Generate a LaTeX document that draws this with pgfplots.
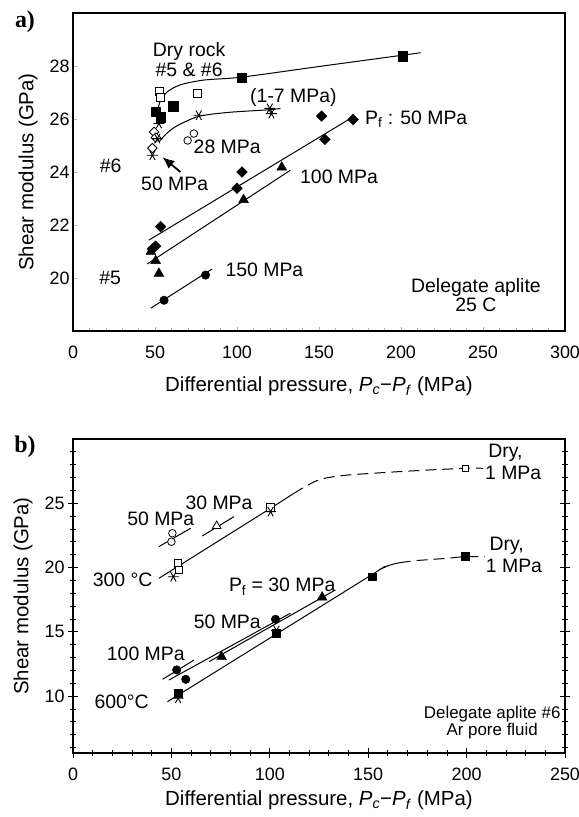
\documentclass[border=0pt]{standalone}
\usepackage{pgfplots}
\pgfplotsset{compat=1.18}
\usepackage{fontspec}
\setmainfont{Liberation Sans}
\newfontfamily\seriffont{Liberation Serif}
\usetikzlibrary{arrows.meta}
\pgfplotsset{
  ln/.style={no marks, black, line width=1pt},
  dl/.style={no marks, black, line width=1pt, dash pattern=on 11bp off 6bp},
  fsq/.style={only marks, mark=square*, mark size=4.6pt, mark options={black, fill=black}},
  osq/.style={only marks, mark=square*, mark size=4pt, mark options={black, fill=white, line width=0.8pt}},
  ast/.style={only marks, mark=asterisk, mark size=5.5pt, mark options={black, rotate=90, line width=0.9pt}},
  ocir/.style={only marks, mark=*, mark size=3.8pt, mark options={black, fill=white, line width=0.8pt}},
  fcir/.style={only marks, mark=*, mark size=4.3pt, mark options={black, fill=black}},
  odia/.style={only marks, mark=square*, mark size=3.4pt, mark options={black, fill=white, rotate=45, line width=0.8pt}},
  fdia/.style={only marks, mark=square*, mark size=3.8pt, mark options={black, fill=black, rotate=45}},
  ftri/.style={only marks, mark=triangle*, mark size=5.7pt, mark options={black, fill=black}},
  otri/.style={only marks, mark=triangle*, mark size=5pt, mark options={black, fill=white, line width=0.8pt}},
}
\tikzset{ann/.style={font=\fontsize{19.5}{20.5}\selectfont, inner sep=0pt}}
\begin{document}
\begin{tikzpicture}[x=1bp,y=1bp]
\useasboundingbox (0,0) rectangle (579,817);
% ---------------- panel a ----------------
\begin{axis}[
  at={(73bp,486bp)}, anchor=south west,
  scale only axis, width=492bp, height=318bp,
  xmin=0, xmax=300, ymin=18, ymax=30,
  xtick={0,50,...,300}, ytick={20,22,...,28},
  minor xtick={10,20,...,290},
  axis line style={line width=1.3pt},
  tick style={gray!60, line width=0.4pt},
  major tick length=4bp, minor tick length=3bp,
  tick align=inside, xtick pos=bottom, ytick pos=left,
  ticklabel style={font=\fontsize{18}{20}\selectfont},
  xticklabel style={yshift=-11bp},
  /pgf/number format/assume math mode=true,
  xlabel={Differential pressure, \textit{P}\textsubscript{\textit{c}}−\textit{P}\textsubscript{\textit{f}} (MPa)},
  ylabel={Shear modulus (GPa)},
  label style={font=\fontsize{20.5}{22}\selectfont},
  xlabel style={yshift=-12bp},
  ylabel style={yshift=5bp},
  clip=false,
]
% lines
\addplot[ln, smooth, tension=0.45] coordinates {(51.5,26.3) (53.5,26.72) (58,27.05) (66,27.3) (80,27.47) (103,27.58) (150,27.98) (212,28.5)};
\addplot[ln, smooth, tension=0.45] coordinates {(52.4,25.13) (57,25.45) (63.6,25.75) (76.7,26.1) (95,26.25) (120,26.35) (126.5,26.4)};
\addplot[ln] coordinates {(46.3,21.43) (170.8,26.08)};
\addplot[ln] coordinates {(45.3,20.53) (132.4,24.06)};
\addplot[ln] coordinates {(47.4,18.86) (84.8,20.34)};
% markers
\addplot[fsq] coordinates {(50.4,26.26) (53.4,26.07) (61.1,26.48) (103,27.57) (200.8,28.37)};
\addplot[osq] coordinates {(52.4,27.05) (53.5,26.8) (75.7,26.98)};
\addplot[odia] coordinates {(49.4,25.51) (50.5,25.3) (48.4,24.9)};
\addplot[ast] coordinates {(48.4,24.63) (51.4,25.26) (52.4,25.83) (76.7,26.14) (120,26.4) (121,26.2)};
\addplot[ocir] coordinates {(73.7,25.45) (69.9,25.19)};
\addplot[fdia] coordinates {(48.4,21.1) (50.4,21.2) (53.4,21.94) (100,23.39) (103,24.0) (151.6,26.11) (153.6,25.23) (170.8,25.98)};
\addplot[ftri] coordinates {(47.5,21.0) (50.4,20.65) (52.4,20.17) (104,22.95) (127.3,24.18)};
\addplot[fcir] coordinates {(55.5,19.16) (80.8,20.11)};
% arrow
\draw[line width=1.8pt, -{Latex[length=12bp,width=10bp]}] (axis cs:65.5,24.0) -- (axis cs:54.5,24.56);
% labels
\node[ann, align=center] at (axis cs:70.8,28.24) {Dry rock\\\#5 \& \#6};
\node[ann] at (axis cs:134.4,26.83) {(1-7 MPa)};
\node[ann, anchor=west] at (axis cs:73.5,24.94) {28 MPa};
\node[ann] at (axis cs:23,24.25) {\#6};
\node[ann] at (axis cs:62,23.55) {50 MPa};
\node[ann, anchor=west] at (axis cs:178,26.0) {P\textsubscript{f} : 50 MPa};
\node[ann, anchor=west] at (axis cs:138.4,23.8) {100 MPa};
\node[ann, anchor=west] at (axis cs:92.9,20.3) {150 MPa};
\node[ann] at (axis cs:22.7,20.02) {\#5};
\node[ann, align=center, font=\fontsize{19.5}{16.5}\selectfont] at (axis cs:245.7,19.35) {Delegate aplite\\25 C};
\end{axis}
% ---------------- panel b ----------------
\begin{axis}[
  at={(73bp,64bp)}, anchor=south west,
  scale only axis, width=492bp, height=314bp,
  xmin=0, xmax=250, ymin=5.58, ymax=30,
  xtick={0,50,...,250}, ytick={10,15,20,25},
  minor xtick={10,20,...,240}, minor ytick={6,...,29},
  axis line style={line width=1.2pt},
  tick style={black, line width=0.8pt},
  major tick length=10bp, minor tick length=6bp,
  tick align=center, xtick pos=bottom, ytick pos=both,
  ticklabel style={font=\fontsize{18}{20}\selectfont},
  xticklabel style={yshift=-6bp},
  /pgf/number format/assume math mode=true,
  xlabel={Differential pressure, \textit{P}\textsubscript{\textit{c}}−\textit{P}\textsubscript{\textit{f}} (MPa)},
  ylabel={Shear modulus (GPa)},
  label style={font=\fontsize{20.5}{22}\selectfont},
  xlabel style={yshift=-4bp},
  ylabel style={yshift=5bp},
  clip=false,
]
% upper group (300 C)
\addplot[ln] coordinates {(43.7,19.17) (100.4,24.61) (112,25.75)};
\addplot[dl, smooth, tension=0.5] coordinates {(112,25.75) (118,26.3) (123,26.7) (128,26.95) (140,27.2) (170,27.5) (199.2,27.72) (208.3,27.72)};
\addplot[ln] coordinates {(43.7,21.63) (59.8,23.06)};
\addplot[ln] coordinates {(65.7,22.46) (81.8,23.96)};
\addplot[osq, mark size=3.8pt] coordinates {(53.4,20.33) (53.9,19.81) (100.4,24.69)};
\addplot[osq, mark size=3pt] coordinates {(199.2,27.72)};
\addplot[ast] coordinates {(51,19.29) (100.4,24.35)};
\addplot[ocir] coordinates {(50.5,22.67) (50,22.01)};
\addplot[otri] coordinates {(73,23.23)};
% lower group (600 C)
\addplot[ln] coordinates {(45.5,11.31) (61.5,12.81)};
\addplot[ln] coordinates {(48.8,11.26) (110.5,16.45)};
\addplot[ln] coordinates {(69.1,12.68) (133.3,18.26)};
\addplot[ln, smooth, tension=0.5] coordinates {(48,9.57) (150.2,19.29) (156,19.85) (161.2,20.2) (166,20.38)};
\addplot[dl, smooth, tension=0.5] coordinates {(166,20.38) (175,20.55) (190,20.72) (199.2,20.85) (209.3,20.85)};
\addplot[ast] coordinates {(53.4,9.84) (103.4,15.1)};
\addplot[fsq, mark size=4pt] coordinates {(53.4,10.22) (103.4,14.89) (151.9,19.29) (199.2,20.85)};
\addplot[ftri] coordinates {(75.5,13.07) (126.6,17.69)};
\addplot[fcir] coordinates {(52.7,12.04) (57.3,11.31) (102.9,15.98)};
% labels
\node[ann] at (axis cs:44.6,23.83) {50 MPa};
\node[ann] at (axis cs:74.2,25.0) {30 MPa};
\node[ann] at (axis cs:25.2,19.04) {300 °C};
\node[ann] at (axis cs:106.3,18.51) {P\textsubscript{f} = 30 MPa};
\node[ann] at (axis cs:37,13.28) {100 MPa};
\node[ann] at (axis cs:78.4,15.79) {50 MPa};
\node[ann] at (axis cs:24.7,9.57) {600°C};
\node[ann, anchor=west] at (axis cs:211,28.89) {Dry,};
\node[ann, anchor=west] at (axis cs:209.3,27.33) {1 MPa};
\node[ann, anchor=west] at (axis cs:211.6,21.68) {Dry,};
\node[ann, anchor=west] at (axis cs:209.7,20.12) {1 MPa};
\node[ann, align=center, font=\fontsize{17}{17.5}\selectfont] at (axis cs:213,7.95) {Delegate aplite \#6\\Ar pore fluid};
\end{axis}
\node[font=\seriffont\bfseries\fontsize{24}{24}\selectfont] at (25,795) {a)};
\node[font=\seriffont\bfseries\fontsize{24}{24}\selectfont] at (25,370) {b)};
\end{tikzpicture}
\end{document}
